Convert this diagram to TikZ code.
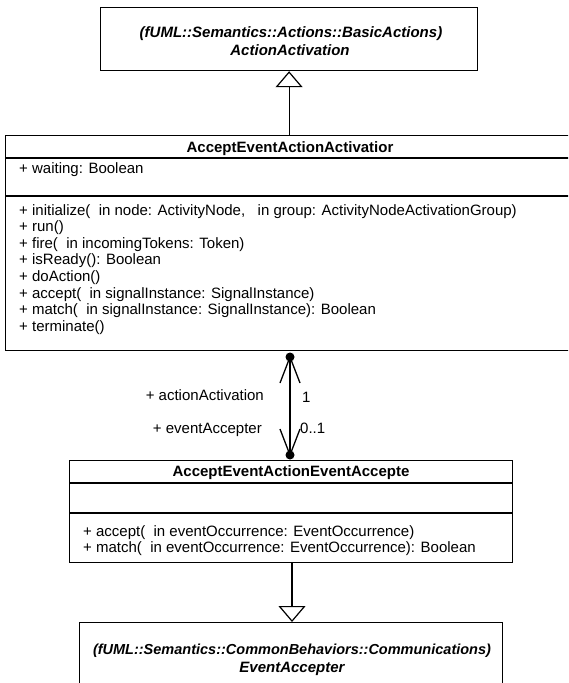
\documentclass[tikz,border=0pt]{standalone}
\usepackage{fontspec}
\setmainfont{Liberation Sans}
\usetikzlibrary{arrows.meta}
\begin{document}
\begin{tikzpicture}[x=1pt,y=-1pt,
  umlbox/.style={draw=black, line width=1.2pt, rectangle, inner sep=0pt, anchor=north west},
  sepline/.style={draw=black, line width=1.2pt},
  mtxt/.style={font=\fontsize{15}{17}\selectfont, inner sep=0pt, anchor=base west},
  ttl/.style={font=\bfseries\fontsize{15}{17}\selectfont, inner sep=0pt, anchor=base},
  abst/.style={font=\bfseries\itshape\fontsize{15}{17}\selectfont, inner sep=0pt, anchor=base},
  abstb/.style={font=\bfseries\itshape\fontsize{14.5}{17}\selectfont, inner sep=0pt, anchor=base},
  gen/.style={draw=black, line width=1.2pt, -{Triangle[open,length=16pt,width=27pt,line width=1.2pt]}},
  assoc/.style={draw=black, line width=1.3pt},
  lbl/.style={font=\fontsize{15}{17}\selectfont, inner sep=0pt}
]
\useasboundingbox (0,0) rectangle (568,683);
\clip (0,0) rectangle (568,683);
\fill[white] (0,0) rectangle (568,683);

% top abstract class
\node[umlbox, minimum width=377pt, minimum height=63pt] (aa) at (100,7) {};
\node[abst] (aa1) at (291,37) {(fUML::Semantics::Actions::BasicActions)};
\node[abst] (aa2) at (290,55.5) {ActionActivation};

% main class
\node[umlbox, minimum width=570pt, minimum height=215pt] (aeaa) at (5,135) {};
\draw[sepline] (5,158) -- (575,158);
\draw[sepline] (5,196) -- (575,196);
\node[ttl] (t1) at (290,152) {AcceptEventActionActivatior};
\node[mtxt] (a1) at (19,173) {+ waiting: Boolean};
\node[mtxt] (m1) at (19,215) {+ initialize(\ \ in node: ActivityNode,\ \ \ in group: ActivityNodeActivationGroup)};
\node[mtxt] (m2) at (19,231.6) {+ run()};
\node[mtxt] (m3) at (19,248.2) {+ fire(\ \ in incomingTokens: Token)};
\node[mtxt] (m4) at (19,264.8) {+ isReady(): Boolean};
\node[mtxt] (m5) at (19,281.4) {+ doAction()};
\node[mtxt] (m6) at (19,298) {+ accept(\ \ in signalInstance: SignalInstance)};
\node[mtxt] (m7) at (19,314.6) {+ match(\ \ in signalInstance: SignalInstance): Boolean};
\node[mtxt] (m8) at (19,331.2) {+ terminate()};

% middle class
\node[umlbox, minimum width=443pt, minimum height=102pt, line width=1.4pt] (eaa) at (69,460) {};
\draw[sepline] (69,483) -- (512,483);
\draw[sepline] (69,513) -- (512,513);
\node[ttl] (t2) at (291,476.5) {AcceptEventActionEventAccepte};
\node[mtxt] (n1) at (83,536.5) {+ accept(\ \ in eventOccurrence: EventOccurrence)};
\node[mtxt] (n2) at (83,552.5) {+ match(\ \ in eventOccurrence: EventOccurrence): Boolean};

% bottom abstract class
\node[umlbox, minimum width=423pt, minimum height=80pt] (ea) at (79,622) {};
\node[abstb] (ea1) at (292,654.5) {(fUML::Semantics::CommonBehaviors::Communications)};
\node[abst] (ea2) at (292,672.5) {EventAccepter};

% generalizations
\draw[gen] (aeaa.north -| aa.south) -- (aa.south);
\coordinate (g2s) at (292,562);
\coordinate (g2e) at (292,622);
\draw[gen] (g2s) -- (g2e);

% association
\coordinate (d1) at (290,357);
\coordinate (d2) at (290,455);
\draw[assoc] (d1) -- (d2);
\fill (d1) circle (4.5);
\fill (d2) circle (4.5);
\draw[assoc, line join=miter] (d1) ++(-10,26) -- (d1) -- ++(10,26);
\draw[assoc, line join=miter] (d2) ++(-10,-26) -- (d2) -- ++(10,-26);

\node[lbl, anchor=base east] (r1) at (264,400.5) {+ actionActivation};
\node[lbl, anchor=base west] (c1) at (302,402.5) {1};
\node[lbl, anchor=base east] (r2) at (262,433.5) {+ eventAccepter};
\node[lbl, anchor=base west] (c2) at (300,433.5) {0..1};
\end{tikzpicture}
\end{document}
